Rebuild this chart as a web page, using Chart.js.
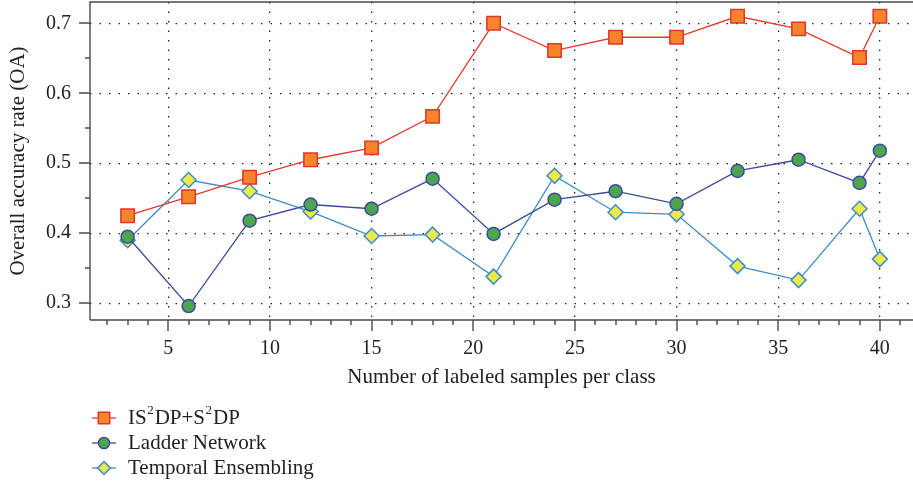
<!DOCTYPE html>
<html>
<head>
<meta charset="utf-8">
<script src="https://cdn.jsdelivr.net/npm/chart.js@4.4.0/dist/chart.umd.min.js"></script>
<style>
  html, body { margin: 0; padding: 0; background: #fff; }
  #wrap { width: 913px; height: 483px; }
</style>
</head>
<body>
<div id="wrap"><canvas id="oaChart" width="913" height="483"></canvas></div>
<script>
// samples per class (x) and OA values
const samples = [3, 6, 9, 12, 15, 18, 21, 24, 27, 30, 33, 36, 39, 40];
const isdp = [0.425, 0.452, 0.480, 0.505, 0.522, 0.567, 0.700, 0.661, 0.680, 0.680, 0.710, 0.692, 0.651, 0.710];
const ladder = [0.395, 0.296, 0.418, 0.441, 0.435, 0.478, 0.399, 0.448, 0.460, 0.442, 0.489, 0.505, 0.472, 0.518];
const temporal = [0.390, 0.476, 0.460, 0.431, 0.396, 0.398, 0.338, 0.482, 0.430, 0.427, 0.353, 0.333, 0.435, 0.363];

const xTicks = [5, 10, 15, 20, 25, 30, 35, 40];
const yTicks = [0.3, 0.4, 0.5, 0.6, 0.7];
const seriesNames = ['IS\u00B2DP+S\u00B2DP', 'Ladder Network', 'Temporal Ensembling'];

const FONT = "'Liberation Serif', 'DejaVu Serif', serif";
const AXIS = '#4a4a4a';
const TEXT = '#222';

function pts(ys){ return samples.map((x,i)=>({x, y: ys[i]})); }

// ticks (major + minor) and the frame, drawn through the scales
const axisDecor = {
  id: 'axisDecor',
  afterDraw(chart){
    const {ctx, chartArea: a, scales: {x, y}} = chart;
    ctx.save();
    ctx.strokeStyle = AXIS;
    ctx.lineWidth = 1.4;
    ctx.beginPath();
    ctx.moveTo(a.left, a.bottom); ctx.lineTo(a.left, a.top); ctx.lineTo(a.right, a.top);
    ctx.moveTo(a.left, a.bottom); ctx.lineTo(a.right, a.bottom);
    for(let v = Math.ceil(x.min); v <= x.max; v++){
      const px = Math.round(x.getPixelForValue(v));
      const len = v % 5 === 0 ? 11 : 5;
      ctx.moveTo(px, a.bottom); ctx.lineTo(px, a.bottom + len);
    }
    for(let k = Math.ceil(y.min * 20); k <= y.max * 20; k++){
      const py = Math.round(y.getPixelForValue(k / 20));
      const len = k % 2 === 0 ? 11 : 5;
      ctx.moveTo(a.left, py); ctx.lineTo(a.left - len, py);
    }
    ctx.stroke();
    ctx.restore();
  }
};

function drawMarker(ctx, style, r, cx, cy){
  if(style === 'rect'){
    const s = r * Math.SQRT1_2;
    ctx.rect(cx - s, cy - s, 2 * s, 2 * s);
  } else if(style === 'rectRot'){
    ctx.moveTo(cx, cy - r); ctx.lineTo(cx + r, cy); ctx.lineTo(cx, cy + r); ctx.lineTo(cx - r, cy); ctx.closePath();
  } else {
    ctx.arc(cx, cy, r, 0, Math.PI * 2);
  }
}

// label text with '²' drawn as a small raised 2
function drawLabel(ctx, text, x, y, size){
  const parts = text.split('\u00B2');
  let cx = x;
  parts.forEach((p, i)=>{
    ctx.font = size + 'px ' + FONT;
    ctx.fillText(p, cx, y);
    cx += ctx.measureText(p).width;
    if(i < parts.length - 1){
      ctx.font = Math.round(size * 0.62) + 'px ' + FONT;
      ctx.fillText('2', cx + 0.5, y - size * 0.33);
      cx += ctx.measureText('2').width + 1.5;
    }
  });
}

// legend under the plot: line + marker, label
const lineLegend = {
  id: 'lineLegend',
  afterDraw(chart){
    const ctx = chart.ctx;
    const x0 = 92, x1 = 116, tx = 128;
    const rows = [418, 443, 468];
    ctx.save();
    chart.data.datasets.forEach((ds, i)=>{
      const yy = rows[i];
      ctx.strokeStyle = ds.borderColor;
      ctx.lineWidth = ds.borderWidth;
      ctx.beginPath(); ctx.moveTo(x0, yy); ctx.lineTo(x1, yy); ctx.stroke();
      ctx.fillStyle = ds.pointBackgroundColor;
      ctx.strokeStyle = ds.pointBorderColor;
      ctx.lineWidth = ds.pointBorderWidth;
      ctx.beginPath();
      drawMarker(ctx, ds.pointStyle, ds.pointRadius * 0.85, (x0 + x1) / 2, yy);
      ctx.fill(); ctx.stroke();
      ctx.fillStyle = TEXT;
      ctx.textBaseline = 'middle';
      ctx.textAlign = 'left';
      drawLabel(ctx, ds.label, tx, yy, 21);
    });
    ctx.restore();
  }
};

const datasets = [
  {
    label: seriesNames[0], data: pts(isdp),
    borderColor: '#e4392f', borderWidth: 1.3,
    pointStyle: 'rect', pointRadius: 9.5, pointBorderWidth: 1.5,
    pointBackgroundColor: '#f5842a', pointBorderColor: '#e0362c'
  },
  {
    label: seriesNames[1], data: pts(ladder),
    borderColor: '#3c4a9e', borderWidth: 1.3,
    pointStyle: 'circle', pointRadius: 6.5, pointBorderWidth: 1.5,
    pointBackgroundColor: '#4da64b', pointBorderColor: '#3b4c9f'
  },
  {
    label: seriesNames[2], data: pts(temporal),
    borderColor: '#3f8bc6', borderWidth: 1.3,
    pointStyle: 'rectRot', pointRadius: 7.5, pointBorderWidth: 1.5,
    pointBackgroundColor: '#ebe94c', pointBorderColor: '#3f8cca'
  }
];

new Chart(document.getElementById('oaChart'), {
  type: 'line',
  data: { datasets },
  plugins: [axisDecor, lineLegend],
  options: {
    responsive: false,
    animation: false,
    devicePixelRatio: 1,
    layout: { autoPadding: false, padding: { top: 2, right: 0, bottom: 88, left: 0 } },
    elements: { line: { tension: 0 } },
    plugins: { legend: { display: false }, tooltip: { enabled: false } },
    scales: {
      x: {
        type: 'linear', min: 1.15, max: 41.63,
        afterBuildTicks: s => { s.ticks = xTicks.map(v => ({value: v})); },
        afterFit: s => { s.height = 75; s.paddingLeft = 0; s.paddingRight = 0; },
        grid: { color: '#222', lineWidth: 1.3, drawTicks: false },
        border: { display: false, dash: [1.5, 8] },
        ticks: { color: TEXT, padding: 17, maxRotation: 0, font: { family: FONT, size: 20 } },
        title: { display: true, text: 'Number of labeled samples per class', color: TEXT,
                 font: { family: FONT, size: 21 }, padding: { top: 0, bottom: 5 } }
      },
      y: {
        type: 'linear', min: 0.276, max: 0.7304,
        afterBuildTicks: s => { s.ticks = yTicks.map(v => ({value: v})); },
        afterFit: s => { s.width = 90; s.paddingTop = 0; s.paddingBottom = 0; },
        grid: { color: '#222', lineWidth: 1.3, drawTicks: false },
        border: { display: false, dash: [1.5, 8] },
        ticks: { color: TEXT, padding: 19, callback: v => v.toFixed(1), font: { family: FONT, size: 20 } },
        title: { display: true, text: 'Overall accuracy rate (OA)', color: TEXT,
                 font: { family: FONT, size: 21 }, padding: { top: 6, bottom: 0 } }
      }
    }
  }
});
</script>
</body>
</html>
